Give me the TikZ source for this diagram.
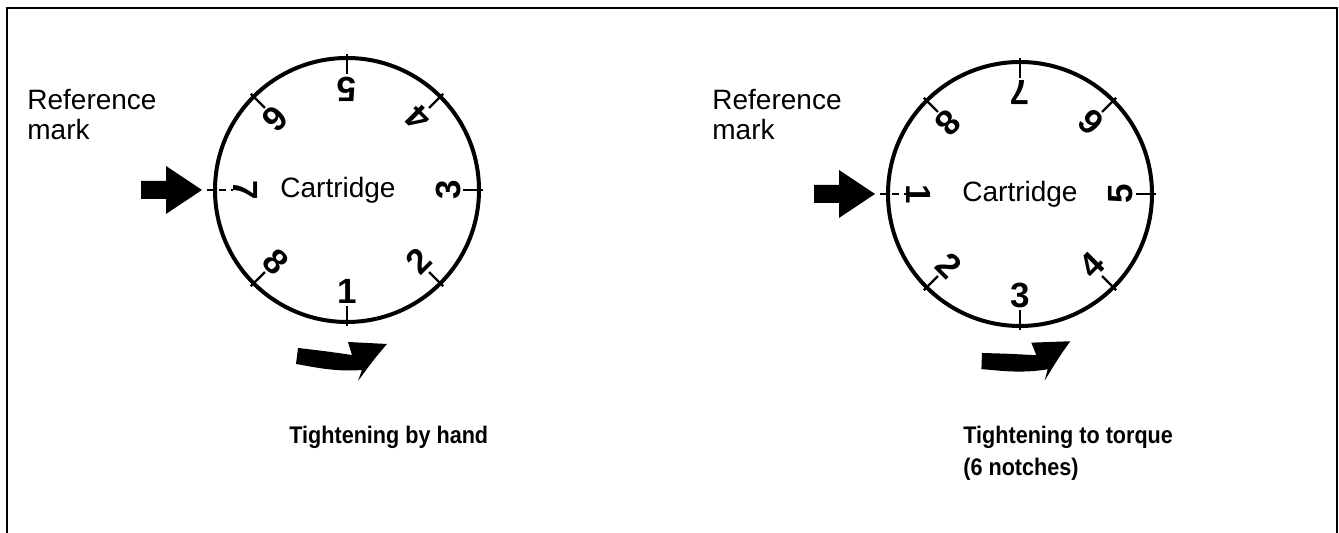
\documentclass[tikz,border=0pt]{standalone}
\usepackage{fontspec}
\setmainfont{Liberation Sans}
\usepackage{tikz}

\begin{document}
\begin{tikzpicture}[x=0.5pt, y=0.5pt,
  frameline/.style={line width=1pt},
  dialring/.style={line width=2pt},
  notch/.style={line width=1.1pt},
  refnotch/.style={line width=1.1pt, dash pattern=on 3.5pt off 2.5pt},
  digit/.style={font=\fontsize{17.5}{18}\selectfont\bfseries, inner sep=0pt},
  hublabel/.style={font=\fontsize{14}{16}\selectfont, inner sep=0pt},
  refnote/.style={font=\fontsize{14}{15}\selectfont, anchor=base west, inner sep=0pt},
  caption/.style={font=\fontsize{12}{13}\selectfont\bfseries, anchor=base west, inner sep=0pt, xscale=0.9},
  turnarrow/.pic={
    \fill (0,0) .. controls (26,-3) .. (54,-7) -- (50,6) -- (89,4)
      .. controls (77,-10) .. (60,-33) -- (64,-22)
      .. controls (36,-24) and (16,-19) .. (-2,-16) -- cycle;
  }
]
\useasboundingbox (0,0) rectangle (1339,533);
% frame (open at the bottom)
\draw[frameline] (7,0) -- (7,525) -- (1337,525) -- (1337,0);

% left dial: tightening by hand
\coordinate (hubA) at (347,343);
\draw[dialring] (hubA) circle[radius=132];
\foreach \a in {0,45,90,135,225,270,315}
  \draw[notch] ([shift={(\a:116)}]hubA) -- ([shift={(\a:136)}]hubA);
\draw[refnotch] ([shift={(180:140)}]hubA) -- ([shift={(180:114)}]hubA);
\foreach \n in {1,...,8} {
  \pgfmathsetmacro\ang{-90+45*(\n-1)}
  \node[digit, rotate=\ang+90] (digA\n) at ([shift={(\ang:101)}]hubA) {\n};
}
\node[hublabel] (cartA) at ([xshift=-4.5pt]hubA) {Cartridge};
\coordinate (tipA) at ([shift={(180:145)}]hubA);
\fill (tipA) -- ++(-36,24) -- ++(0,-15) -- ++(-25,0) -- ++(0,-18) -- ++(25,0) -- ++(0,-15) -- cycle;
\node[refnote] (refA) at (27,423) {Reference};
\node[refnote] (markA) at ([yshift=-15pt]refA.base west) {mark};
\pic at (298,185) {turnarrow};
\node[caption] (capA) at (289,89) {Tightening by hand};

% right dial: tightening to torque
\coordinate (hubB) at (1020,339);
\draw[dialring] (hubB) circle[radius=132];
\foreach \a in {0,45,90,135,225,270,315}
  \draw[notch] ([shift={(\a:116)}]hubB) -- ([shift={(\a:136)}]hubB);
\draw[refnotch] ([shift={(180:140)}]hubB) -- ([shift={(180:114)}]hubB);
\foreach \n in {1,...,8} {
  \pgfmathsetmacro\ang{180+45*(\n-1)}
  \node[digit, rotate=\ang+90] (digB\n) at ([shift={(\ang:101)}]hubB) {\n};
}
\node[hublabel] (cartB) at (hubB) {Cartridge};
\coordinate (tipB) at ([shift={(180:145)}]hubB);
\fill (tipB) -- ++(-36,24) -- ++(0,-15) -- ++(-25,0) -- ++(0,-18) -- ++(25,0) -- ++(0,-15) -- cycle;
\node[refnote] (refB) at (712,423) {Reference};
\node[refnote] (markB) at ([yshift=-15pt]refB.base west) {mark};
\pic[rotate=5] at (982,180) {turnarrow};
\node[caption] (capB) at (963,89) {Tightening to torque};
\node[caption] (noteB) at ([yshift=-16pt]capB.base west) {(6 notches)};
\end{tikzpicture}
\end{document}
